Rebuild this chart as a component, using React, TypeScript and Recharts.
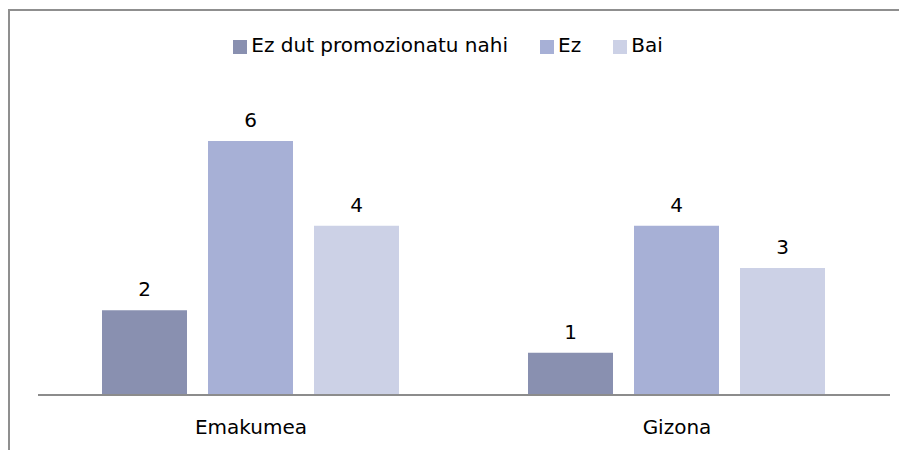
import { BarChart, Bar, XAxis, YAxis, Legend, LabelList } from "recharts";

const categories = ["Emakumea", "Gizona"];
const ezDutPromozionatuNahi = [2, 1];
const ez = [6, 4];
const bai = [4, 3];

const seriesNames = ["Ez dut promozionatu nahi", "Ez", "Bai"];
const colors = ["#8990B0", "#A7B0D6", "#CCD1E6"];

const data = categories.map((name, i) => ({
  name,
  s0: ezDutPromozionatuNahi[i],
  s1: ez[i],
  s2: bai[i],
}));

const font = "'DejaVu Sans', sans-serif";

export default function App() {
  return (
    <div
      style={{
        marginTop: 1,
        width: 899,
        height: 441,
        borderLeft: "2px solid #8f8f8f",
        borderTop: "2px solid #8f8f8f",
        fontFamily: font,
        overflow: "hidden",
      }}>
      <BarChart
        width={897}
        height={440}
        data={data}
        margin={{ top: 106, right: 17, bottom: 16, left: 28 }}
        barCategoryGap={64}
        barGap={21}>
        <Legend
          verticalAlign="top"
          align="center"
          iconType="square"
          iconSize={14}
          itemSorter={(item: { value: string }) => seriesNames.indexOf(item.value)}
          wrapperStyle={{ top: 22, fontSize: 20, color: "#000" }}
          formatter={(value: string) => <span style={{ color: "#000", marginRight: 22 }}>{value}</span>}
        />
        <XAxis
          dataKey="name"
          tickLine={false}
          axisLine={{ stroke: "#8c8c8c", strokeWidth: 2 }}
          tick={{ fill: "#000", fontSize: 20, fontFamily: font }}
          tickMargin={19}
          height={40}
        />
        <YAxis hide domain={[0, 6]} />
        {seriesNames.map((n, i) => (
          <Bar key={n} dataKey={`s${i}`} name={n} fill={colors[i]} isAnimationActive={false}>
            <LabelList
              dataKey={`s${i}`}
              position="top"
              offset={14}
              style={{ fill: "#000", fontSize: 20, fontFamily: font }}
            />
          </Bar>
        ))}
      </BarChart>
    </div>
  );
}
